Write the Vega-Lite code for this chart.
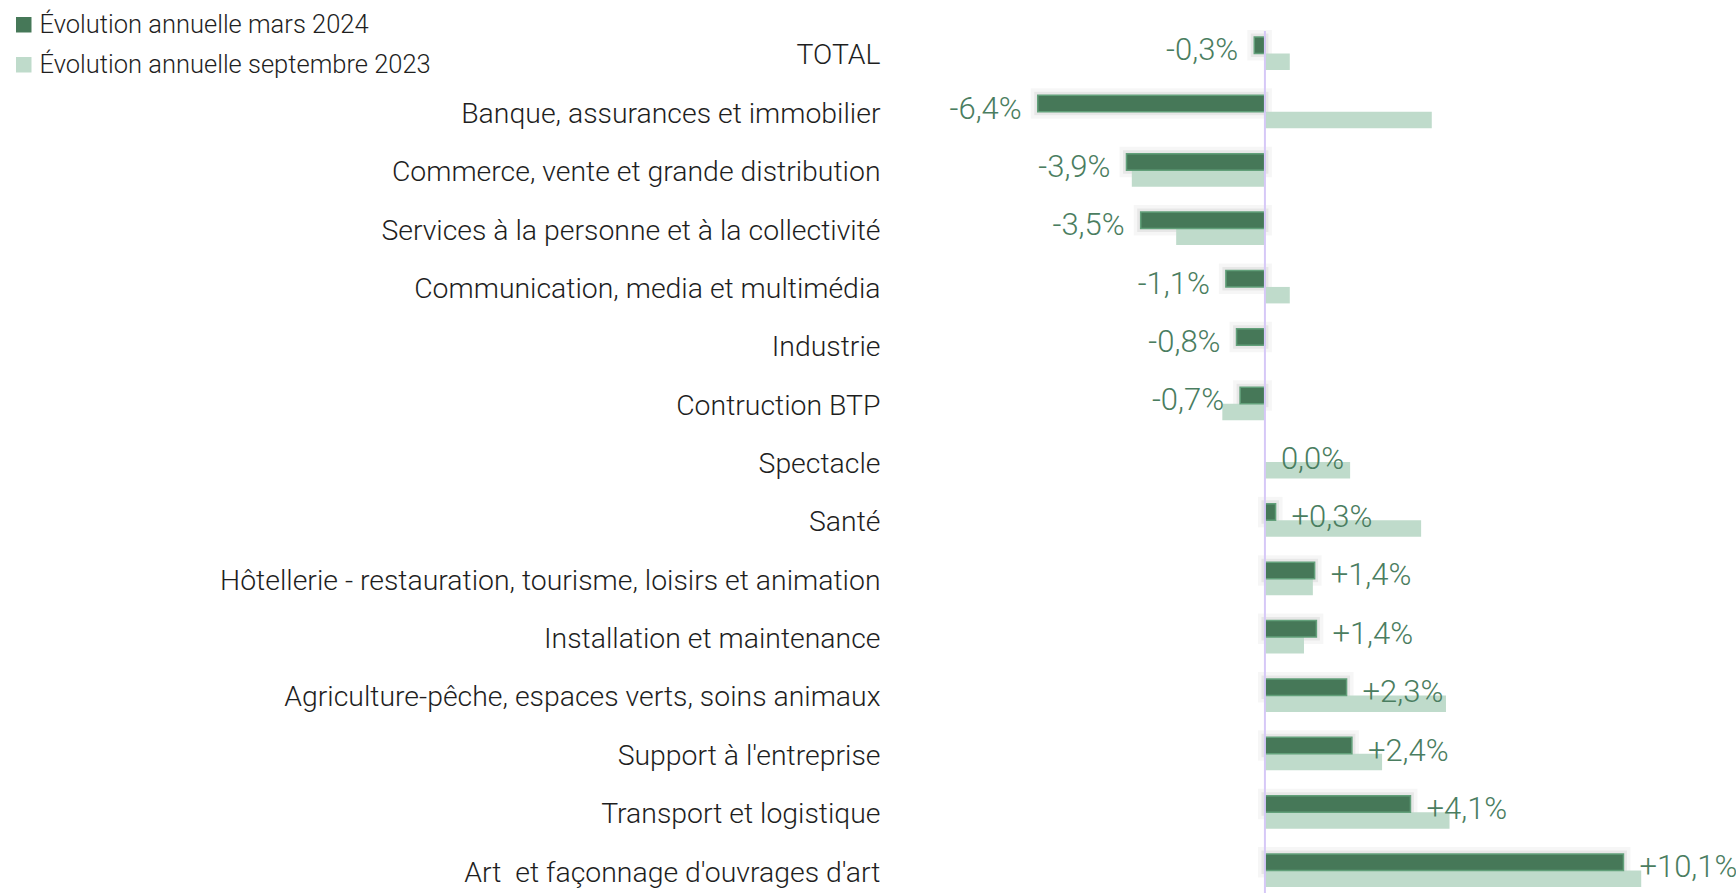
{
  "$schema": "https://vega.github.io/schema/vega-lite/v6.json",
  "width": 836,
  "height": 862,
  "autosize": {"type": "none"},
  "padding": {"left": 900, "top": 31, "right": 0, "bottom": 0},
  "background": "#ffffff",
  "config": {
    "view": {"stroke": null},
    "font": "Roboto",
    "legend": {
      "orient": "none",
      "legendX": -889,
      "legendY": -19,
      "padding": 0,
      "title": null,
      "labelFont": "Roboto",
      "labelFontSize": 25.5,
      "labelFontWeight": 300,
      "labelColor": "#1e1e1e",
      "labelLimit": 0,
      "labelOffset": 3,
      "symbolType": "square",
      "symbolSize": 240,
      "symbolStrokeWidth": 0,
      "rowPadding": 13
    }
  },
  "data": {
    "values": [
      {"cat": "TOTAL", "serie": "Évolution annuelle mars 2024", "value": -0.3, "label": "-0,3%"},
      {"cat": "TOTAL", "serie": "Évolution annuelle septembre 2023", "value": 0.7},
      {"cat": "Banque, assurances et immobilier", "serie": "Évolution annuelle mars 2024", "value": -6.4, "label": "-6,4%"},
      {"cat": "Banque, assurances et immobilier", "serie": "Évolution annuelle septembre 2023", "value": 4.7},
      {"cat": "Commerce, vente et grande distribution", "serie": "Évolution annuelle mars 2024", "value": -3.9, "label": "-3,9%"},
      {"cat": "Commerce, vente et grande distribution", "serie": "Évolution annuelle septembre 2023", "value": -3.75},
      {"cat": "Services à la personne et à la collectivité", "serie": "Évolution annuelle mars 2024", "value": -3.5, "label": "-3,5%"},
      {"cat": "Services à la personne et à la collectivité", "serie": "Évolution annuelle septembre 2023", "value": -2.5},
      {"cat": "Communication, media et multimédia", "serie": "Évolution annuelle mars 2024", "value": -1.1, "label": "-1,1%"},
      {"cat": "Communication, media et multimédia", "serie": "Évolution annuelle septembre 2023", "value": 0.7},
      {"cat": "Industrie", "serie": "Évolution annuelle mars 2024", "value": -0.8, "label": "-0,8%"},
      {"cat": "Industrie", "serie": "Évolution annuelle septembre 2023", "value": 0},
      {"cat": "Contruction BTP", "serie": "Évolution annuelle mars 2024", "value": -0.7, "label": "-0,7%"},
      {"cat": "Contruction BTP", "serie": "Évolution annuelle septembre 2023", "value": -1.2},
      {"cat": "Spectacle", "serie": "Évolution annuelle mars 2024", "value": 0.0, "label": "0,0%"},
      {"cat": "Spectacle", "serie": "Évolution annuelle septembre 2023", "value": 2.4},
      {"cat": "Santé", "serie": "Évolution annuelle mars 2024", "value": 0.3, "label": "+0,3%"},
      {"cat": "Santé", "serie": "Évolution annuelle septembre 2023", "value": 4.4},
      {"cat": "Hôtellerie - restauration, tourisme, loisirs et animation", "serie": "Évolution annuelle mars 2024", "value": 1.4, "label": "+1,4%"},
      {"cat": "Hôtellerie - restauration, tourisme, loisirs et animation", "serie": "Évolution annuelle septembre 2023", "value": 1.35},
      {"cat": "Installation et maintenance", "serie": "Évolution annuelle mars 2024", "value": 1.45, "label": "+1,4%"},
      {"cat": "Installation et maintenance", "serie": "Évolution annuelle septembre 2023", "value": 1.1},
      {"cat": "Agriculture-pêche, espaces verts, soins animaux ", "serie": "Évolution annuelle mars 2024", "value": 2.3, "label": "+2,3%"},
      {"cat": "Agriculture-pêche, espaces verts, soins animaux ", "serie": "Évolution annuelle septembre 2023", "value": 5.1},
      {"cat": "Support à l'entreprise", "serie": "Évolution annuelle mars 2024", "value": 2.45, "label": "+2,4%"},
      {"cat": "Support à l'entreprise", "serie": "Évolution annuelle septembre 2023", "value": 3.3},
      {"cat": "Transport et logistique", "serie": "Évolution annuelle mars 2024", "value": 4.1, "label": "+4,1%"},
      {"cat": "Transport et logistique", "serie": "Évolution annuelle septembre 2023", "value": 5.2},
      {"cat": "Art \u00a0et façonnage d'ouvrages d'art", "serie": "Évolution annuelle mars 2024", "value": 10.1, "label": "+10,1%"},
      {"cat": "Art \u00a0et façonnage d'ouvrages d'art", "serie": "Évolution annuelle septembre 2023", "value": 10.6}
    ]
  },
  "layer": [
    {
      "transform": [{"filter": "datum.serie == 'Évolution annuelle mars 2024' && datum.value != 0"}],
      "mark": {"type": "bar", "fillOpacity": 0, "stroke": "#000000", "strokeOpacity": 0.035, "strokeWidth": 14},
      "encoding": {
        "y": {"field": "cat", "type": "nominal",
          "scale": {"domain": ["TOTAL", "Banque, assurances et immobilier", "Commerce, vente et grande distribution", "Services à la personne et à la collectivité", "Communication, media et multimédia", "Industrie", "Contruction BTP", "Spectacle", "Santé", "Hôtellerie - restauration, tourisme, loisirs et animation", "Installation et maintenance", "Agriculture-pêche, espaces verts, soins animaux ", "Support à l'entreprise", "Transport et logistique", "Art \u00a0et façonnage d'ouvrages d'art"], "paddingInner": 0.435, "paddingOuter": 0.103},
          "axis": {"orient": "left", "ticks": false, "domain": false, "grid": false, "title": null, "labelPadding": 20, "labelLimit": 0, "labelFont": "Roboto", "labelFontWeight": 300, "labelFontSize": 28.4, "labelColor": "#1e1e1e", "labelBaseline": "middle", "labelOffset": 2}},
        "yOffset": {"field": "serie", "type": "nominal", "scale": {"domain": ["Évolution annuelle mars 2024", "Évolution annuelle septembre 2023"], "paddingInner": 0, "paddingOuter": 0}},
        "x": {"field": "value", "type": "quantitative", "scale": {"domain": [-10.28, 13.27], "nice": false, "zero": false}, "axis": null}
      }
    },
    {
      "transform": [{"filter": "datum.serie == 'Évolution annuelle mars 2024' && datum.value != 0"}],
      "mark": {"type": "bar", "fillOpacity": 0, "stroke": "#000000", "strokeOpacity": 0.06, "strokeWidth": 7},
      "encoding": {
        "y": {"field": "cat", "type": "nominal"},
        "yOffset": {"field": "serie", "type": "nominal"},
        "x": {"field": "value", "type": "quantitative"}
      }
    },
    {
      "transform": [{"filter": "datum.serie == 'Évolution annuelle septembre 2023'"}],
      "mark": {"type": "bar"},
      "encoding": {
        "y": {"field": "cat", "type": "nominal"},
        "yOffset": {"field": "serie", "type": "nominal"},
        "x": {"field": "value", "type": "quantitative"},
        "color": {"field": "serie", "type": "nominal", "scale": {"domain": ["Évolution annuelle mars 2024", "Évolution annuelle septembre 2023"], "range": ["#467858", "#bfdbcb"]}}
      }
    },
    {
      "transform": [{"filter": "datum.serie == 'Évolution annuelle mars 2024' && datum.value != 0"}],
      "mark": {"type": "bar", "stroke": "#62a07a", "strokeWidth": 1.5},
      "encoding": {
        "y": {"field": "cat", "type": "nominal"},
        "yOffset": {"field": "serie", "type": "nominal"},
        "x": {"field": "value", "type": "quantitative"},
        "color": {"field": "serie", "type": "nominal"}
      }
    },
    {
      "transform": [{"filter": "datum.serie == 'Évolution annuelle mars 2024' && datum.value < 0"}],
      "mark": {"type": "text", "align": "right", "baseline": "middle", "dx": -16, "dy": 6, "font": "Roboto", "fontWeight": 300, "fontSize": 31, "color": "#4a7d60"},
      "encoding": {
        "y": {"field": "cat", "type": "nominal"},
        "yOffset": {"field": "serie", "type": "nominal"},
        "x": {"field": "value", "type": "quantitative"},
        "text": {"field": "label"}
      }
    },
    {
      "transform": [{"filter": "datum.serie == 'Évolution annuelle mars 2024' && datum.value >= 0"}],
      "mark": {"type": "text", "align": "left", "baseline": "middle", "dx": 16, "dy": 6, "font": "Roboto", "fontWeight": 300, "fontSize": 31, "color": "#4a7d60"},
      "encoding": {
        "y": {"field": "cat", "type": "nominal"},
        "yOffset": {"field": "serie", "type": "nominal"},
        "x": {"field": "value", "type": "quantitative"},
        "text": {"field": "label"}
      }
    },
    {
      "data": {"values": [{}]},
      "mark": {"type": "rule", "color": "#d6c8f7", "strokeWidth": 2},
      "encoding": {"x": {"datum": 0, "type": "quantitative"}}
    }
  ]
}
